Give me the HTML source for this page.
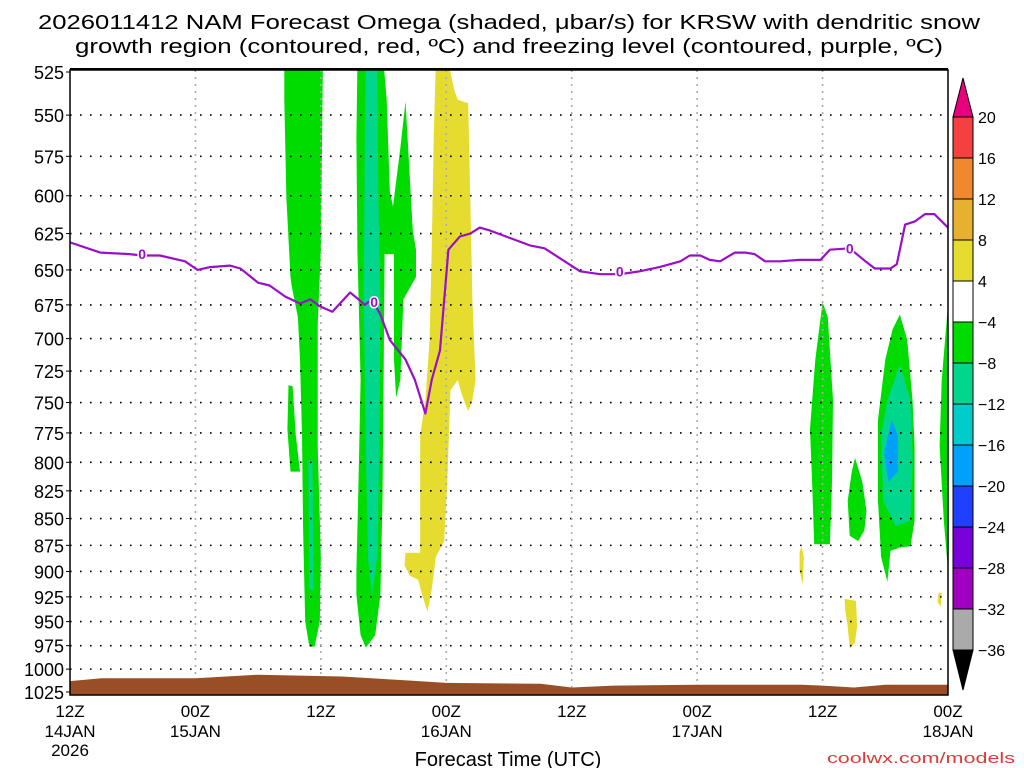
<!DOCTYPE html>
<html><head><meta charset="utf-8"><style>
body{margin:0;background:#fff;}
svg{display:block;font-family:"Liberation Sans",sans-serif;}
</style></head><body>
<svg id="chart" width="1024" height="768" viewBox="0 0 1024 768" xmlns="http://www.w3.org/2000/svg">
<rect width="1024" height="768" fill="#fff"/>
<text x="509" y="29" font-size="20" text-anchor="middle" textLength="942" lengthAdjust="spacingAndGlyphs">2026011412 NAM Forecast Omega (shaded, μbar/s) for KRSW with dendritic snow</text>
<text x="509" y="53" font-size="20" text-anchor="middle" textLength="868" lengthAdjust="spacingAndGlyphs">growth region (contoured, red, ºC) and freezing level (contoured, purple, ºC)</text>
<defs><clipPath id="plotclip"><rect x="70" y="70" width="878" height="625"/></clipPath></defs>
<g id="shades" clip-path="url(#plotclip)"></g>
<g id="grid"></g>
<g id="ground" clip-path="url(#plotclip)"></g>
<g id="fz" clip-path="url(#plotclip)"></g>
<rect x="70" y="70" width="878" height="625" fill="none" stroke="#000" stroke-width="1.5"/>
<line x1="70" y1="69" x2="948" y2="69" stroke="#000" stroke-width="2"/>
<g id="yaxis"></g>
<g id="xaxis"></g>
<text x="508" y="766" font-size="20" text-anchor="middle">Forecast Time (UTC)</text>
<text x="1015" y="763" font-size="15" text-anchor="end" fill="#e03838" textLength="188" lengthAdjust="spacingAndGlyphs">coolwx.com/models</text>
<g id="cbar"></g>
</svg>
<script>
const yTicks=[525,550,575,600,625,650,675,700,725,750,775,800,825,850,875,900,925,950,975,1000,1025];
const xTickHours=[0,12,24,36,48,60,72,84];
const xTickTop=["12Z","00Z","12Z","00Z","12Z","00Z","12Z","00Z"];
const xTickMid=["14JAN","15JAN","","16JAN","","17JAN","","18JAN"];
const xTickBot=["2026","","","","","","",""];
const cbValues=[20,16,12,8,4,-4,-8,-12,-16,-20,-24,-28,-32,-36];
const cbColors=["#f44040","#f08830","#e8b030","#e6dc30","#ffffff","#00dc00","#00d68c","#00cccc","#00a0ff","#2040ff","#7800d8","#a000c0","#aaaaaa"];
const fzHours=[0,2.9,5.7,6.9,8.6,11,12.2,13.4,15.3,16.3,18,19.1,20.6,22,23,23.9,25.1,26.8,27.6,28.2,28.9,29.7,30.6,32.1,33,34,34.6,35.4,36.2,37.3,38.3,39.2,40.2,42.1,44,45.4,46.9,48.8,50.7,52.6,54.5,56.4,58.4,59.3,60.3,61.2,62.2,63.6,64.6,65.5,66.5,67.9,69.8,71.8,72.7,74.6,76.1,77,78.5,79.1,79.9,80.8,81.8,82.7,84];
const fzPres=[631,638,639,640,640,644,650,648,647,649,659,661,669,674,671,676,680,666,671,675,671,682,701,716,732,759,732,709,636,627,625,621,623,628,633,635,642,651,653,653,651,648,644,640,640,643,644,638,638,639,644,644,643,643,636,635,644,649,649,646,619,617,612,612,621];
const fzLabelHours=[6.9,29.1,52.6,74.6];
const fzLabelPres=[639,673,651,635];
const sfcHours=[0,3,12,18,26,32,36,45,48,52,60,70,72,75,78,84];
const sfcPres=[1013,1010,1010,1006,1008,1012,1015,1016,1020,1018,1017,1017,1018,1020,1017,1017];
const shadeNames=["green-a","green-b","teal-a","green-c","teal-c","yellow-a","green-d","green-e","green-f","teal-f","blue-f","green-g","yellow-b","yellow-c","yellow-d"];
const shadeLevels=[5,5,6,5,6,3,5,5,5,6,8,5,3,3,3];
const shadeHours=[
[20.5,24.2,24.0,23.7,23.7,24.0,23.9,23.4,22.9,22.5,22.3,22.2,22.0,21.8,21.2,21.1,20.7,20.5],
[20.9,21.3,21.6,22,21.1,20.8],
[22.8,23.2,23.3,22.9],
[27.5,30,30.3,30.6,30.9,31.6,32.1,32.3,32.8,33.1,33.1,31.9,31.6,31.2,31,31,30.1,30,29.9,29.7,29.2,28.3,27.8,27.4,27.4,27.6,27.8,27.5,27.4],
[28.3,29.4,29.5,29.7,29.6,29.4,28.9,28.5,28.3,28.1,28.2],
[35,36.2,36.8,37.1,38.1,38.3,38.5,38.8,38.5,38.1,37.5,37.1,36.4,36.1,35.8,35,34.6,34.2,33.7,33.3,32.5,32,32.1,33.5,33.5,34,34.4,34.6,34.8],
[72,72.5,73,72.9,72.7,71.2,71,70.8,71.3],
[75.1,75.8,76.2,76,75.4,74.6,74.4,74.8],
[79.4,80.1,80.6,80.8,80.8,80.4,79.4,78.5,78.2,77.6,77.3,77.3,78,78.7],
[79.4,80.4,80.6,80.4,79,77.8,77.6,78.2],
[78.6,79.2,79.2,78.3,77.9],
[84,84,83.6,83.2,83.4],
[70,70.2,70.1,69.8,69.8],
[74.1,75.2,75.3,75.1,74.6,74.4,74.2],
[83.1,83.4,83.3,83]];
const shadePres=[
[520,520,636,690,786,886,950,976,976,950,860,777,716,684,661,655,602,541],
[736,737,777,808,808,772],
[798,798,918,918],
[520,520,541,597,607,570,542,564,623,636,655,671,732,746,716,639,639,732,834,923,964,977,964,923,899,817,732,636,564],
[520,520,597,671,786,886,923,886,786,671,564],
[520,520,536,541,543,602,671,732,748,757,744,732,740,817,871,886,918,940,923,908,904,894,882,882,777,748,701,636,564],
[673,684,748,817,874,874,817,772,716],
[796,817,843,861,871,866,834,808],
[682,701,748,786,852,876,877,880,910,886,834,764,716,693],
[720,748,798,852,857,834,777,748],
[764,777,808,817,792],
[675,899,852,786,732],
[876,886,913,899,881],
[927,929,955,972,978,955,941],
[921,921,935,930]];

const NS="http://www.w3.org/2000/svg";
const X0=70,X1=948,Y0=72,Y1=692,PTOP=525,PBOT=1025,HMAX=84;
function xs(h){return X0+(h/HMAX)*(X1-X0);}
function ys(p){return Y0+Math.log(p/PTOP)/Math.log(PBOT/PTOP)*(Y1-Y0);}
function mk(tag,attrs,parent){const e=document.createElementNS(NS,tag);for(const k in attrs)e.setAttribute(k,attrs[k]);parent.appendChild(e);return e;}

const shades=document.getElementById('shades');
shadeHours.forEach((hs,i)=>{
  const pts=hs.map((h,j)=>xs(h).toFixed(1)+","+ys(shadePres[i][j]).toFixed(1)).join(" ");
  const e=mk('polygon',{points:pts,fill:cbColors[shadeLevels[i]]},shades);
  
  
});

const grid=document.getElementById('grid');
yTicks.forEach(p=>{
  if(p===525||p===1025)return;
  const e=mk('line',{x1:X0,x2:X1,y1:ys(p),y2:ys(p),stroke:"#000","stroke-width":1.6,"stroke-dasharray":"1.6 8.4"},grid);
  
  
});
xTickHours.forEach(h=>{
  if(h===0||h===84)return;
  const e=mk('line',{x1:xs(h),x2:xs(h),y1:70,y2:695,stroke:"#aaa","stroke-width":1.6,"stroke-dasharray":"2 5"},grid);
  
  
});

const ground=document.getElementById('ground');
let gp="M"+xs(sfcHours[0])+","+ys(sfcPres[0]);
sfcHours.forEach((h,i)=>{gp+=" L"+xs(h).toFixed(1)+","+ys(sfcPres[i]).toFixed(1);});
gp+=" L"+X1+",700 L"+X0+",700 Z";
const ge=mk('path',{d:gp,fill:"#9a4e26"},ground);



const fz=document.getElementById('fz');
const fl=mk('polyline',{points:fzHours.map((h,i)=>xs(h).toFixed(1)+","+ys(fzPres[i]).toFixed(1)).join(" "),fill:"none",stroke:"#9a10c8","stroke-width":2.2,"stroke-linejoin":"round"},fz);


fzLabelHours.forEach((h,i)=>{
  const e=mk('text',{x:xs(h),y:ys(fzLabelPres[i])+5,"font-size":14,"font-weight":"bold","text-anchor":"middle",fill:"#9a10c8",stroke:"#fff","stroke-width":3,"paint-order":"stroke"},fz);
  e.textContent="0";
  
  
});

const ya=document.getElementById('yaxis');
yTicks.forEach(p=>{
  const t=mk('text',{x:64,y:ys(p)+7,"font-size":18,"text-anchor":"end"},ya);
  t.textContent=p;
  
  
  mk('line',{x1:66,x2:70,y1:ys(p),y2:ys(p),stroke:"#000"},ya);
});
const xa=document.getElementById('xaxis');
xTickHours.forEach((h,i)=>{
  [[xTickTop[i],717],[xTickMid[i],737],[xTickBot[i],756]].forEach(([s,y])=>{
    if(!s)return;
    const t=mk('text',{x:xs(h),y:y,"font-size":17,"text-anchor":"middle"},xa);
    t.textContent=s;
    
    
  });
});

const cb=document.getElementById('cbar');
const CB0=117,CBS=41,CX=953,CW=20;
const tri1=mk('polygon',{points:`${CX},${CB0} ${CX+CW},${CB0} ${CX+CW/2},78`,fill:"#e8007c",stroke:"#000"},cb);


cbColors.forEach((c,i)=>{
  const r=mk('rect',{x:CX,y:CB0+i*CBS,width:CW,height:CBS,fill:c,stroke:"#000","stroke-width":1},cb);
  
  
});
const bY=CB0+cbColors.length*CBS;
const tri2=mk('polygon',{points:`${CX},${bY} ${CX+CW},${bY} ${CX+CW/2},${bY+40}`,fill:"#000",stroke:"#000"},cb);


cbValues.forEach((v,i)=>{
  const t=mk('text',{x:978,y:CB0+i*CBS+6,"font-size":16},cb);
  t.textContent=v<0?"\u2212"+(-v):String(v);
  
  
});
</script>
</body></html>
